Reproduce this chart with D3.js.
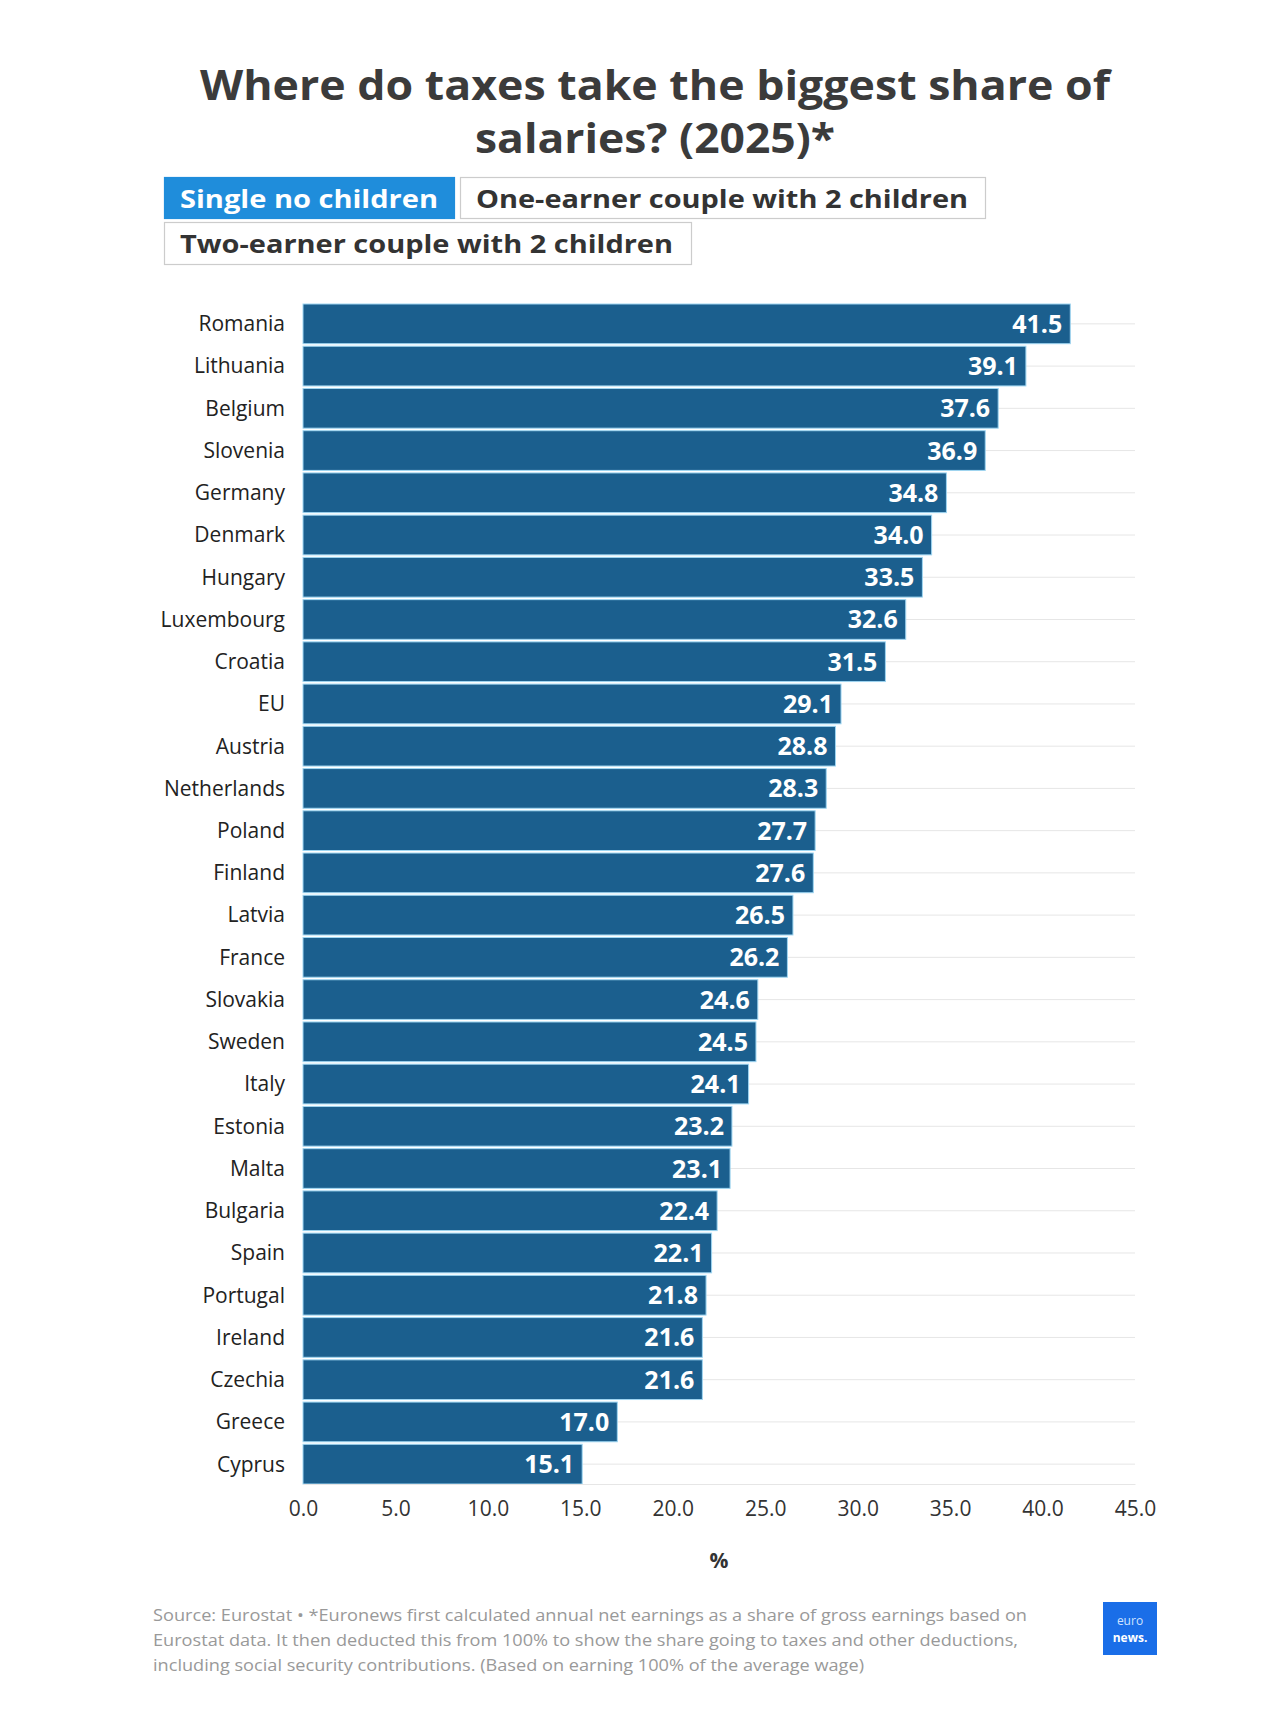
<!DOCTYPE html>
<html><head><meta charset="utf-8">
<script src="https://cdn.jsdelivr.net/npm/d3@7"></script>
<style>body{margin:0;background:#fff;}svg{display:block;}</style>
</head><body>
<svg id="c" width="1280" height="1735"></svg>
<script>
const countries = ["Romania","Lithuania","Belgium","Slovenia","Germany","Denmark","Hungary","Luxembourg","Croatia","EU","Austria","Netherlands","Poland","Finland","Latvia","France","Slovakia","Sweden","Italy","Estonia","Malta","Bulgaria","Spain","Portugal","Ireland","Czechia","Greece","Cyprus"];
const values = [41.5,39.1,37.6,36.9,34.8,34.0,33.5,32.6,31.5,29.1,28.8,28.3,27.7,27.6,26.5,26.2,24.6,24.5,24.1,23.2,23.1,22.4,22.1,21.8,21.6,21.6,17.0,15.1];
const xTicks = [0,5,10,15,20,25,30,35,40,45];
const titleLines = ["Where do taxes take the biggest share of","salaries? (2025)*"];
const buttons = ["Single no children","One-earner couple with 2 children","Two-earner couple with 2 children"];
const footLines = ["Source: Eurostat • *Euronews first calculated annual net earnings as a share of gross earnings based on","Eurostat data. It then deducted this from 100% to show the share going to taxes and other deductions,","including social security contributions. (Based on earning 100% of the average wage)"];

const svg = d3.select("#c");
const F = "'Open Sans', 'Noto Sans', sans-serif";

// title
svg.selectAll("text.title").data(titleLines).join("text")
  .attr("x", 655).attr("y",(d,i)=>100+i*53)
  .attr("text-anchor","middle").attr("font-family",F).attr("font-weight",700)
  .attr("font-size",42).attr("fill","#3b3b3b")
  .attr("textLength",(d,i)=>i===0?910:360).attr("lengthAdjust","spacingAndGlyphs")
  .text(d=>d);

// buttons
const btn = [
 {x:164,y:177,w:290,h:41,active:true},
 {x:460,y:177,w:525,h:41,active:false},
 {x:164,y:222,w:527,h:42,active:false}];
const bg = svg.selectAll("g.btn").data(buttons).join("g");
bg.append("rect").attr("x",(d,i)=>btn[i].x+0.5).attr("y",(d,i)=>btn[i].y+0.5)
  .attr("width",(d,i)=>btn[i].w).attr("height",(d,i)=>btn[i].h)
  .attr("fill",(d,i)=>btn[i].active?"#1f8ddb":"#fff")
  .attr("stroke",(d,i)=>btn[i].active?"#1f8ddb":"#cccccc").attr("stroke-width",1.2);
bg.append("text").attr("x",(d,i)=>btn[i].x+16).attr("y",(d,i)=>btn[i].y+btn[i].h/2+10)
  .attr("font-family",F).attr("font-weight",700).attr("font-size",25)
  .attr("fill",(d,i)=>btn[i].active?"#fff":"#333")
  .attr("textLength",(d,i)=>[258,492,493][i]).attr("lengthAdjust","spacingAndGlyphs")
  .text(d=>d);

// scales
const x = d3.scaleLinear().domain([0,45]).range([303,1135]);
const y = d3.scaleBand().domain(countries).range([304,1484]).paddingInner(0.06).paddingOuter(0.0);

// gridlines at category centers
svg.append("g").selectAll("line").data(countries).join("line")
  .attr("x1",303).attr("x2",1135)
  .attr("y1",d=>y(d)+y.bandwidth()/2).attr("y2",d=>y(d)+y.bandwidth()/2)
  .attr("stroke","#e6e6e6").attr("stroke-width",1);

// bars
const data = countries.map((c,i)=>({c,v:values[i]}));
svg.append("g").selectAll("rect").data(data).join("rect")
  .attr("x",x(0)).attr("y",d=>y(d.c))
  .attr("width",d=>x(d.v)-x(0)).attr("height",y.bandwidth())
  .attr("fill","#1b5f8e").attr("stroke","#9fd6f2").attr("stroke-width",1);

// value labels
svg.append("g").selectAll("text").data(data).join("text")
  .attr("x",d=>x(d.v)-8).attr("y",d=>y(d.c)+y.bandwidth()/2+9)
  .attr("text-anchor","end").attr("font-family",F).attr("font-weight",700)
  .attr("font-size",25).attr("fill","#fff")
  .text(d=>d.v.toFixed(1));

// y axis labels
const ya = svg.append("g").attr("transform","translate(285,0)")
  .call(d3.axisLeft(y).tickSize(0).tickPadding(0));
ya.select(".domain").remove();
ya.selectAll("text").attr("font-family",F).attr("font-size",21).attr("fill","#222").attr("dy","0.35em");

// x axis
const xa = svg.append("g").attr("transform","translate(0,1484)")
  .call(d3.axisBottom(x).tickValues(xTicks).tickFormat(d3.format(".1f")).tickSize(0).tickPadding(17));
xa.select(".domain").attr("stroke","#e6e6e6");
xa.selectAll("text").attr("font-family",F).attr("font-size",21).attr("fill","#333");

svg.append("text").attr("x",719).attr("y",1568).attr("text-anchor","middle")
  .attr("font-family",F).attr("font-weight",700).attr("font-size",21).attr("fill","#333").text("%");

// footer
svg.selectAll("text.foot").data(footLines).join("text")
  .attr("x",153).attr("y",(d,i)=>1621+i*25)
  .attr("font-family",F).attr("font-size",17).attr("fill","#999")
  .attr("textLength",(d,i)=>[874,865,711][i]).attr("lengthAdjust","spacingAndGlyphs")
  .text(d=>d);

// logo
svg.append("rect").attr("x",1103).attr("y",1602).attr("width",54).attr("height",53).attr("fill","#1a6ee8");
svg.append("text").attr("x",1130).attr("y",1625).attr("text-anchor","middle").attr("font-family",F)
  .attr("font-size",12).attr("fill","#cfe3ff").text("euro");
svg.append("text").attr("x",1130).attr("y",1642).attr("text-anchor","middle").attr("font-family",F)
  .attr("font-weight",700).attr("font-size",12).attr("fill","#fff").text("news.");
</script>
</body></html>
